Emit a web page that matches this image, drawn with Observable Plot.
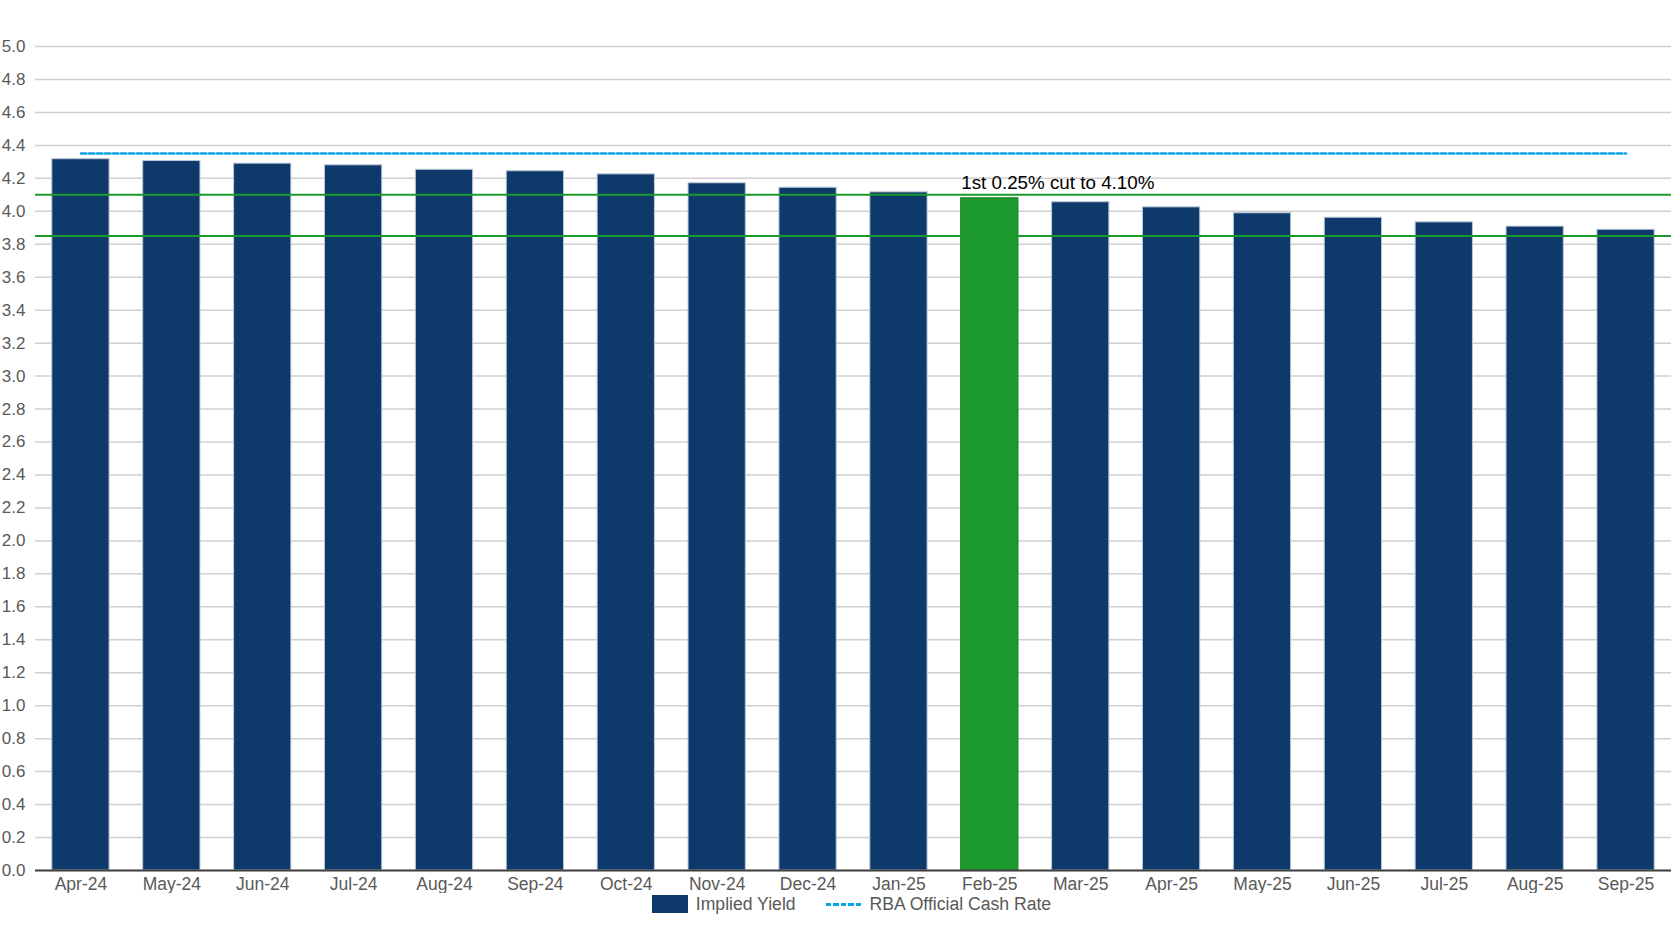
<!DOCTYPE html>
<html>
<head>
<meta charset="utf-8">
<script src="https://cdn.jsdelivr.net/npm/d3@7"></script>
<script src="https://cdn.jsdelivr.net/npm/@observablehq/plot@0.6"></script>
<style>
  html, body { margin: 0; padding: 0; background: #fff; }
  body { font-family: "Liberation Sans", Arial, sans-serif; width: 1671px; }
  #chart svg { display: block; }
  #legend { display: flex; justify-content: center; align-items: center; padding-left: 32px; box-sizing: border-box; width: 1671px; height: 22px; margin-top: 0px; font-size: 17.6px; color: #595959; }
  .item { display: flex; align-items: center; }
  .sw { width: 36px; height: 18px; background: #0e3a6b; margin-right: 8px; }
  .dash { width: 36px; height: 3px; margin-right: 8px; background: repeating-linear-gradient(90deg, #0aa3e3 0 5.5px, transparent 5.5px 7.5px); }
</style>
</head>
<body>
<div id="chart"></div>
<div id="legend">
  <div class="item"><div class="sw"></div><span>Implied Yield</span></div>
  <div class="item" style="margin-left:30px"><div class="dash"></div><span>RBA Official Cash Rate</span></div>
</div>
<script>
const months = ["Apr-24","May-24","Jun-24","Jul-24","Aug-24","Sep-24","Oct-24","Nov-24","Dec-24",
                "Jan-25","Feb-25","Mar-25","Apr-25","May-25","Jun-25","Jul-25","Aug-25","Sep-25"];
const impliedYield = [4.316, 4.305, 4.289, 4.279, 4.252, 4.243, 4.224, 4.170, 4.143,
                      4.115, 4.079, 4.055, 4.024, 3.988, 3.961, 3.933, 3.907, 3.888];
const rbaCashRate = [4.35, 4.35, 4.35, 4.35, 4.35, 4.35, 4.35, 4.35, 4.35,
                     4.35, 4.35, 4.35, 4.35, 4.35, 4.35, 4.35, 4.35, 4.35];
const cutMonth = "Feb-25";
const cutLevels = [4.10, 3.85];
const annotation = "1st 0.25% cut to 4.10%";
const yTicks = [0,0.2,0.4,0.6,0.8,1.0,1.2,1.4,1.6,1.8,2.0,2.2,2.4,2.6,2.8,3.0,3.2,3.4,3.6,3.8,4.0,4.2,4.4,4.6,4.8,5.0];

const bars = months.map((m, i) => ({month: m, value: impliedYield[i], cut: m === cutMonth}));
const rba = months.map((m, i) => ({month: m, value: rbaCashRate[i]}));

const chart = Plot.plot({
  width: 1671,
  height: 893,
  marginLeft: 35,
  marginRight: 0,
  marginTop: 46,
  marginBottom: 23,
  style: {fontFamily: '"Liberation Sans", Arial, sans-serif', background: "#fff"},
  x: {type: "band", domain: months, paddingInner: 0.37, paddingOuter: 0.185, round: false, label: null},
  y: {domain: [0, 5], label: null},
  marks: [
    Plot.ruleY(yTicks, {stroke: "#d0d0d0", strokeWidth: 1.5}),
    Plot.barY(bars, {x: "month", y: "value",
      fill: d => d.cut ? "#1e9b2e" : "#0e3a6b",
      stroke: d => d.cut ? "#16782a" : "#b9c6d9", strokeWidth: 1}),
    Plot.ruleY(cutLevels, {stroke: "#1a9a2a", strokeWidth: 2}),
    Plot.line(rba, {x: "month", y: "value", stroke: "#0aa3e3", strokeWidth: 2.5, strokeDasharray: "5.5,2.5"}),
    Plot.ruleY([0], {stroke: "#404040", strokeWidth: 2}),
    Plot.text([annotation], {x: () => cutMonth, y: () => cutLevels[0], text: d => d,
      textAnchor: "start", lineAnchor: "bottom", dx: -28.6, dy: -6, fontSize: 18.8, fill: "#000"}),
    Plot.axisY(yTicks, {tickSize: 0, tickPadding: 10, tickFormat: d3.format(".1f"), fontSize: 17, fill: "#595959"}),
    Plot.axisX({tickSize: 0, tickPadding: 7, fontSize: 17.5, fill: "#595959"})
  ]
});
document.getElementById("chart").appendChild(chart);
</script>
</body>
</html>
